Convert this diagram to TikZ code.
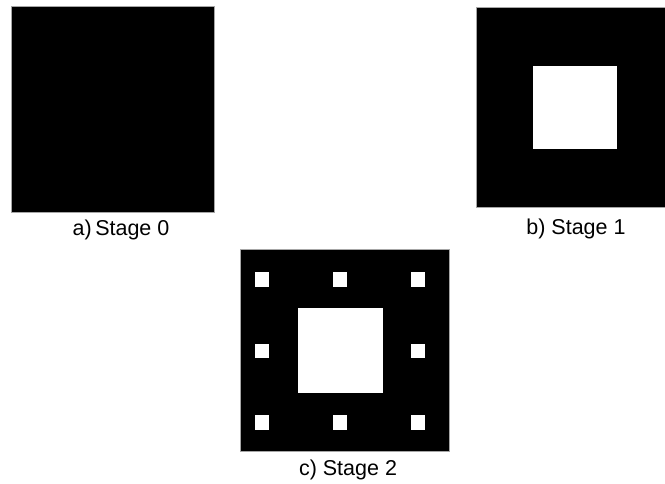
\documentclass[tikz,border=0pt]{standalone}
\usepackage{fontspec}
\setmainfont{Liberation Sans}
\begin{document}
\begin{tikzpicture}[x=1pt,y=-1pt,
  blk/.style={fill=black,draw=gray!70,line width=0.7pt},
  hole/.style={fill=white},
  stagelabel/.style={font=\fontsize{21.5}{25}\selectfont,anchor=base,inner sep=0pt}]
\useasboundingbox (0,0) rectangle (665,483);
\clip (0,0) rectangle (665,483);
% a) Stage 0
\draw[blk] (11,6) rectangle (214,212);
\node[stagelabel] (la) at (121,235) {a)\,Stage 0};
% b) Stage 1
\draw[blk] (476,7) rectangle (680,207);
\fill[hole] (533,66) rectangle (617,149);
\node[stagelabel] (lb) at (576,234) {b) Stage 1};
% c) Stage 2
\draw[blk] (240,249) rectangle (449,451);
\fill[hole] (298,308) rectangle (383,393);
\foreach \cx in {255,333,411}{
  \foreach \cy in {272,415}{
    \fill[hole] (\cx,\cy) rectangle ++(14,15);
  }
}
\fill[hole] (255,344) rectangle ++(14,14);
\fill[hole] (411,344) rectangle ++(14,14);
\node[stagelabel] (lc) at (348,475) {c) Stage 2};
\end{tikzpicture}
\end{document}
